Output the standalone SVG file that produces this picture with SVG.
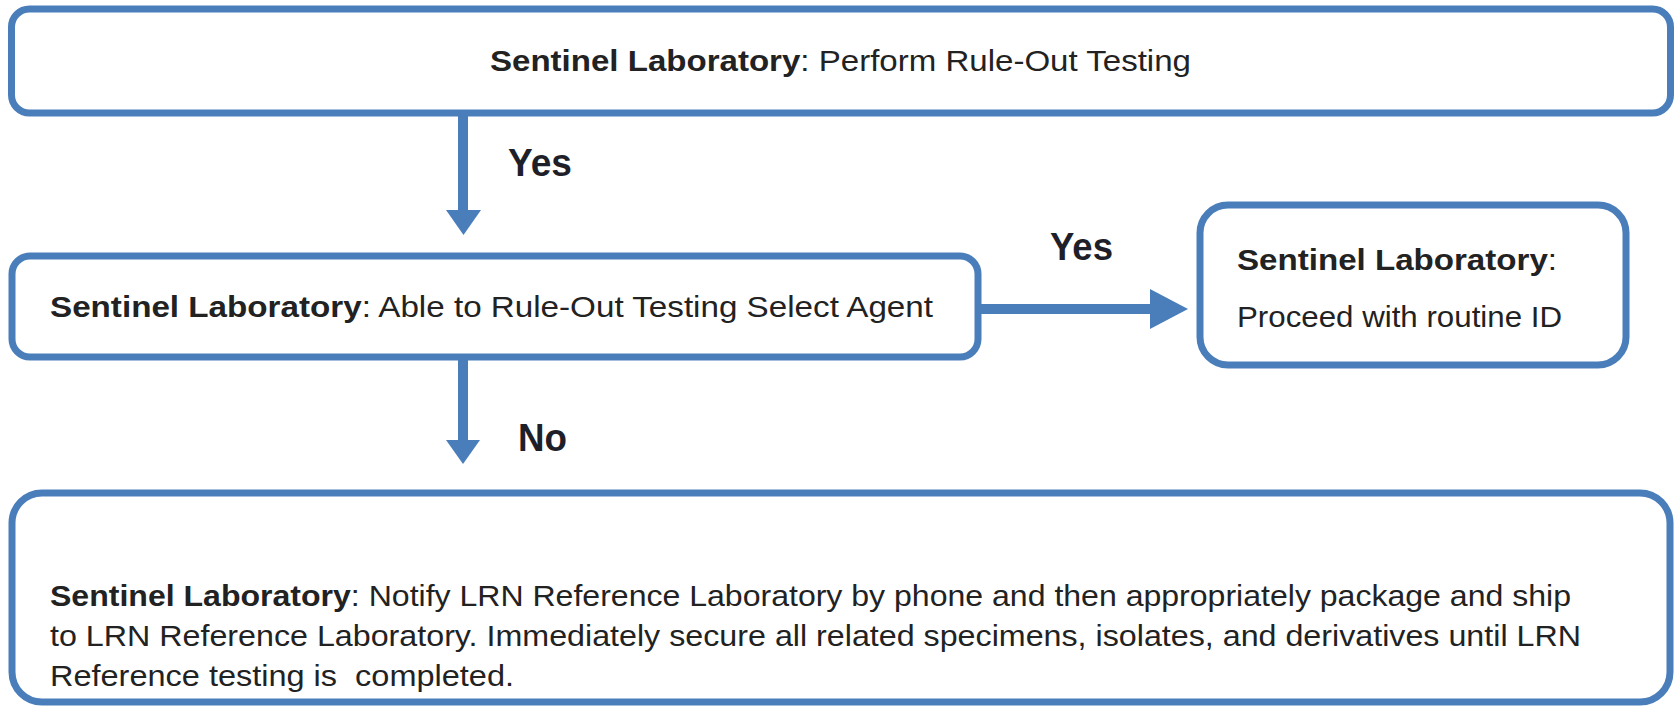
<svg xmlns="http://www.w3.org/2000/svg" width="1678" height="707" viewBox="0 0 1678 707">
<style>
.box{fill:#ffffff;stroke:#4a7ebb;stroke-width:7}
.t{font-family:"Liberation Sans",Arial,sans-serif;font-size:30px;fill:#222222;white-space:pre}
.b{font-weight:bold}
.lbl{font-family:"Liberation Sans",Arial,sans-serif;font-size:38px;font-weight:bold;fill:#1f1f2a}
.shaft{stroke:#4a7ebb;stroke-width:10;fill:none}
.head{fill:#4a7ebb}
</style>
<rect width="1678" height="707" fill="#ffffff"/>
<g id="connectors">
<line class="shaft" x1="463" y1="113" x2="463" y2="214"/>
<polygon class="head" points="446,210 481,210 463.5,235"/>
<line class="shaft" x1="463" y1="357" x2="463" y2="444"/>
<polygon class="head" points="446,440 480,440 463,464"/>
<line class="shaft" x1="978" y1="309" x2="1154" y2="309"/>
<polygon class="head" points="1150,289 1150,329 1188,309"/>
<text class="lbl" x="508" y="176" textLength="64" lengthAdjust="spacingAndGlyphs">Yes</text>
<text class="lbl" x="1050" y="260" textLength="63" lengthAdjust="spacingAndGlyphs">Yes</text>
<text class="lbl" x="518" y="451" textLength="49" lengthAdjust="spacingAndGlyphs">No</text>
</g>
<g id="node-rule-out">
<rect class="box" x="11.5" y="9" width="1659" height="104" rx="18"/>
<text class="t" x="490" y="71" textLength="701" lengthAdjust="spacingAndGlyphs"><tspan class="b">Sentinel Laboratory</tspan>: Perform Rule-Out Testing</text>
</g>
<g id="node-able">
<rect class="box" x="12" y="256" width="966" height="101" rx="18"/>
<text class="t" x="50" y="317" textLength="883" lengthAdjust="spacingAndGlyphs"><tspan class="b">Sentinel Laboratory</tspan>: Able to Rule-Out Testing Select Agent</text>
</g>
<g id="node-routine">
<rect class="box" x="1200" y="205" width="426" height="160" rx="28"/>
<text class="t" x="1237" y="270" textLength="320" lengthAdjust="spacingAndGlyphs"><tspan class="b">Sentinel Laboratory</tspan>:</text>
<text class="t" x="1237" y="327" textLength="325" lengthAdjust="spacingAndGlyphs">Proceed with routine ID</text>
</g>
<g id="node-notify">
<rect class="box" x="12" y="493" width="1658" height="209" rx="30"/>
<text class="t" x="50" y="606" textLength="1521" lengthAdjust="spacingAndGlyphs"><tspan class="b">Sentinel Laboratory</tspan>: Notify LRN Reference Laboratory by phone and then appropriately package and ship</text>
<text class="t" x="50" y="646" textLength="1531" lengthAdjust="spacingAndGlyphs">to LRN Reference Laboratory. Immediately secure all related specimens, isolates, and derivatives until LRN</text>
<text class="t" x="50" y="686" textLength="464" lengthAdjust="spacingAndGlyphs">Reference testing is  completed.</text>
</g>
</svg>
